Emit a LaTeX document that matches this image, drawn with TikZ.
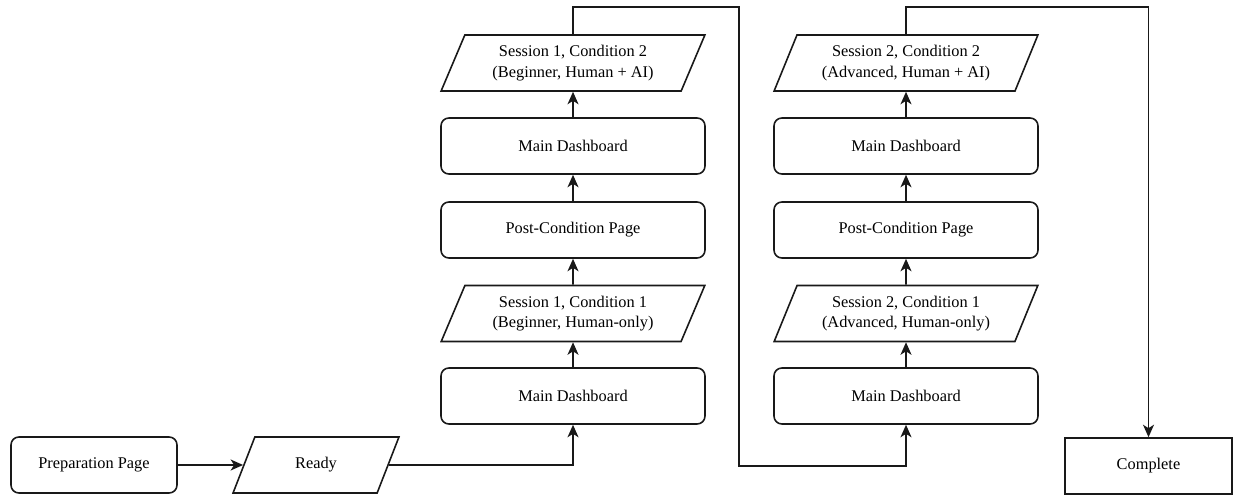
\documentclass[tikz,border=0pt]{standalone}
\usepackage{fontspec}
\setmainfont{Liberation Serif}
\usepackage{tikz}
\usetikzlibrary{arrows.meta,positioning,shapes.geometric}

\newcommand{\flowfont}{\fontsize{9.3}{11.6}\selectfont}

\begin{document}
\begin{tikzpicture}[
    >={Stealth[length=2.5mm,width=2.2mm,inset=0.7mm]},
    line width=0.9pt,
    page/.style={
        rectangle,
        rounded corners=4.5pt,
        draw=black!90,
        minimum width=#1,
        minimum height=1.12cm,
        inner sep=0pt,
        font=\flowfont,
        align=center
    },
    page/.default=5.28cm,
    io/.style={
        trapezium,
        trapezium left angle=63.4,
        trapezium right angle=116.6,
        trapezium stretches=true,
        draw=black!90,
        minimum width=#1,
        minimum height=1.12cm,
        inner sep=0pt,
        font=\flowfont,
        align=center
    },
    io/.default=5.28cm,
    final/.style={
        rectangle,
        draw=black!90,
        minimum width=3.34cm,
        minimum height=1.12cm,
        font=\flowfont,
        align=center
    },
    flow/.style={
        ->,
        draw=black!90
    }
]
\useasboundingbox (0,0) rectangle (24.7,-9.94);

% Start
\node[page=3.32cm] (prep) at (1.88,-9.3) {Preparation Page};
\node[io=3.32cm] (ready) at (6.32,-9.3) {Ready};

% Session 1 (beginner)
\node[page] (dash1) at (11.46,-7.92) {Main Dashboard};
\node[io] (s1c1) at (11.46,-6.27) {Session 1, Condition 1\\(Beginner, Human-only)};
\node[page] (post1) at (11.46,-4.6) {Post-Condition Page};
\node[page] (dash2) at (11.46,-2.92) {Main Dashboard};
\node[io] (s1c2) at (11.46,-1.26) {Session 1, Condition 2\\(Beginner, Human + AI)};

% Session 2 (advanced)
\node[page] (dash3) at (18.12,-7.92) {Main Dashboard};
\node[io] (s2c1) at (18.12,-6.27) {Session 2, Condition 1\\(Advanced, Human-only)};
\node[page] (post2) at (18.12,-4.6) {Post-Condition Page};
\node[page] (dash4) at (18.12,-2.92) {Main Dashboard};
\node[io] (s2c2) at (18.12,-1.26) {Session 2, Condition 2\\(Advanced, Human + AI)};

% End
\node[final] (done) at (22.97,-9.32) {Complete};

% Bend points of the long connectors
\coordinate (loopA) at (14.78,-0.14);
\coordinate (loopB) at (14.78,-9.32);
\coordinate (finish) at (22.97,-0.14);

% Connectors
\draw[flow] (prep) -- (ready);
\draw[flow] (ready.east) -| (dash1.south);
\draw[flow] (dash1) -- (s1c1);
\draw[flow] (s1c1) -- (post1);
\draw[flow] (post1) -- (dash2);
\draw[flow] (dash2) -- (s1c2);
\draw[flow] (s1c2.north) |- (loopA) -- (loopB) -| (dash3.south);
\draw[flow] (dash3) -- (s2c1);
\draw[flow] (s2c1) -- (post2);
\draw[flow] (post2) -- (dash4);
\draw[flow] (dash4) -- (s2c2);
\draw[flow] (s2c2.north) |- (finish) -- (done);

\end{tikzpicture}
\end{document}
